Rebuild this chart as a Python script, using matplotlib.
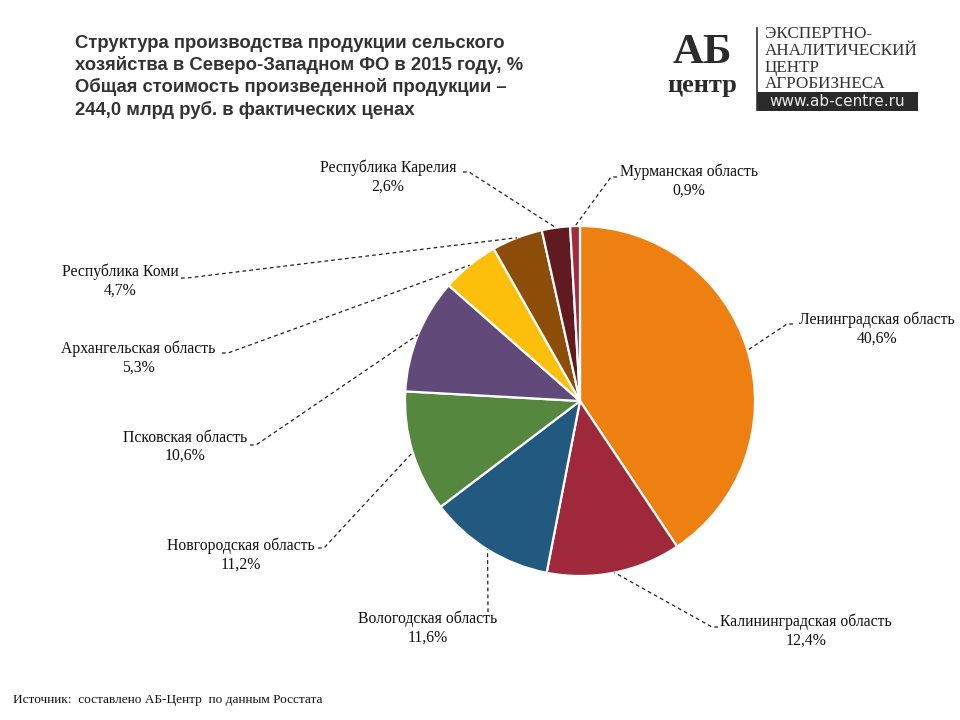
import numpy as np
import matplotlib
matplotlib.use("Agg")
import matplotlib.pyplot as plt
from matplotlib.patches import Rectangle

regions = ["Ленинградская область", "Калининградская область", "Вологодская область",
           "Новгородская область", "Псковская область", "Архангельская область",
           "Республика Коми", "Республика Карелия", "Мурманская область"]
values = [40.6, 12.4, 11.6, 11.2, 10.6, 5.3, 4.7, 2.6, 0.9]
colors = ["#EE8011", "#9F283B", "#215A7E", "#55873F", "#614A7A",
          "#FCC00A", "#8C4D08", "#611A20", "#A52A40"]

# label layout (pixel coordinates): text centre, leader start
label_pos = [(877, 329), (806, 631), (428, 628), (241, 555), (185, 447),
             (138, 358), (120, 281), (388, 177), (689, 181)]
leader_start = [(793, 324), (718, 627), (488, 612), (318, 548), (250, 445),
                (222, 353), (181, 278), (463, 172), (617, 177)]
leader_dir = [-1, -1, 0, 1, 1, 1, 1, 1, -1]

W, H = 960, 720
fig = plt.figure(figsize=(9.6, 7.2), dpi=100)
ax = fig.add_axes([0, 0, 1, 1])
cx, cy, R = 580, 401, 175

wedges, _ = ax.pie(values, colors=colors, startangle=270, counterclock=True,
                   center=(cx, cy), radius=R, frame=True,
                   wedgeprops=dict(edgecolor="white", linewidth=1.6))
ax.set_xlim(0, W)
ax.set_ylim(H, 0)
ax.set_aspect("equal")
ax.axis("off")

serif = "Liberation Serif"
for w, name, v, (lx, ly), (sx, sy), d in zip(wedges, regions, values, label_pos, leader_start, leader_dir):
    ang = np.deg2rad((w.theta1 + w.theta2) / 2)
    ex = cx + R * np.cos(ang)
    ey = cy + R * np.sin(ang)
    pct = f"{v:.1f}".replace(".", ",") + "%"
    ax.text(lx, ly, name + "\n" + pct, ha="center", va="center", fontsize=11.3,
            family=serif, color="#111111", linespacing=1.15)
    if d == 0:
        xs, ys = [sx, ex], [sy, ey]
    else:
        xs, ys = [sx, sx + 6 * d, ex], [sy, sy, ey]
    ax.plot(xs, ys, color="#222222", lw=0.9, ls=(0, (3, 2.5)))

title = ("Структура производства продукции сельского\n"
         "хозяйства в Северо-Западном ФО в 2015 году, %\n"
         "Общая стоимость произведенной продукции –\n"
         "244,0 млрд руб. в фактических ценах")
ax.text(75, 35, title, ha="left", va="top", fontsize=13.3, fontweight="bold",
        family="Liberation Sans", color="#333333", linespacing=1.3)

# logo
ax.text(702, 63, "АБ", ha="center", va="baseline", fontsize=31, fontweight="bold",
        family=serif, color="#2b2b2b")
ax.text(702, 92, "центр", ha="center", va="baseline", fontsize=19, fontweight="bold",
        family=serif, color="#2b2b2b")
ax.plot([757, 757], [28, 110], color="#333333", lw=1.2)
for i, t in enumerate(["ЭКСПЕРТНО-", "АНАЛИТИЧЕСКИЙ", "ЦЕНТР", "АГРОБИЗНЕСА"]):
    ax.text(765, 38.5 + i * 16.5, t, ha="left", va="baseline", fontsize=12.3,
            family=serif, color="#333333")
ax.add_patch(Rectangle((757, 92), 161, 19, facecolor="#2a2a2a", edgecolor="none"))
ax.text(837, 101.5, "www.ab-centre.ru", ha="center", va="center", fontsize=11,
        family="DejaVu Sans", color="#eeeeee")

ax.text(13, 700, "Источник:  составлено АБ-Центр  по данным Росстата", ha="left",
        va="center", fontsize=9.6, family=serif, color="#111111")

fig.savefig("out.png", dpi=100, facecolor="white")
